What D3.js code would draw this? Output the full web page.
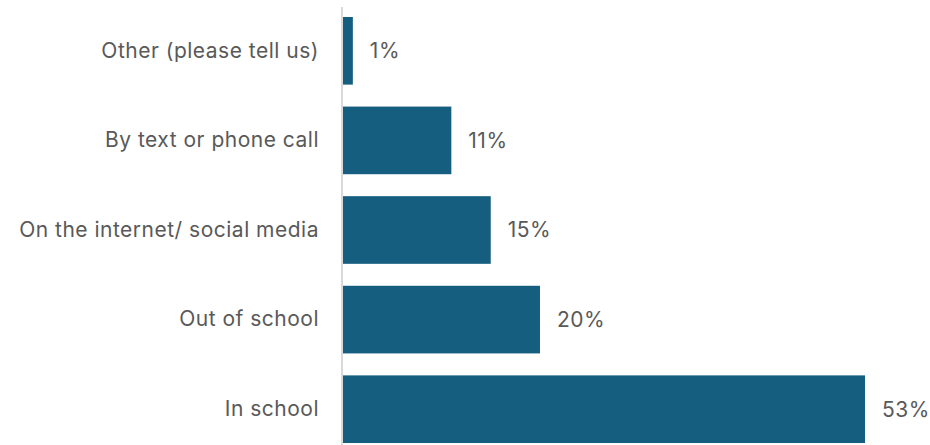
<!DOCTYPE html>
<html>
<head>
<meta charset="utf-8">
<script src="https://cdn.jsdelivr.net/npm/d3@7/dist/d3.min.js"></script>
<style>
  html, body { margin: 0; padding: 0; background: #fff; }
  svg text { font-family: Inter, "Open Sans", "Noto Sans", sans-serif; letter-spacing: 0.5px; }
</style>
</head>
<body>
<svg id="chart" width="930" height="445"></svg>
<script>
// Where respondents said it happened (percent of respondents)
const categories = ["Other (please tell us)", "By text or phone call", "On the internet/ social media", "Out of school", "In school"];
const values = [1, 11, 15, 20, 53];

const svg = d3.select("#chart");
const barColor = "#165e80";
const textColor = "#595959";

const x = d3.scaleLinear().domain([0, 53]).range([343, 865]);
const y = d3.scaleBand().domain(categories).range([6, 454])
  .paddingInner(0.245).paddingOuter(0.1225);

// bars
svg.append("g").selectAll("rect")
  .data(categories)
  .join("rect")
  .attr("x", x(0))
  .attr("y", d => y(d))
  .attr("width", (d, i) => x(values[i]) - x(0))
  .attr("height", y.bandwidth())
  .attr("fill", barColor);

// vertical category axis
const axis = svg.append("g")
  .attr("transform", `translate(${x(0) - 1},0)`)
  .call(d3.axisLeft(y).tickSize(0).tickPadding(23));
axis.select(".domain").attr("d", "M0,7V445").attr("stroke", "#d9d9d9").attr("stroke-width", 2);
axis.selectAll(".tick text")
  .attr("font-size", 21)
  .attr("fill", textColor)
  .style("font-family", "Inter, 'Open Sans', sans-serif");

// value labels
svg.append("g").selectAll("text")
  .data(categories)
  .join("text")
  .attr("x", (d, i) => x(values[i]) + 17)
  .attr("y", d => y(d) + y.bandwidth() / 2)
  .attr("dy", "0.35em")
  .attr("font-size", 21)
  .attr("fill", textColor)
  .text((d, i) => values[i] + "%");
</script>
</body>
</html>
